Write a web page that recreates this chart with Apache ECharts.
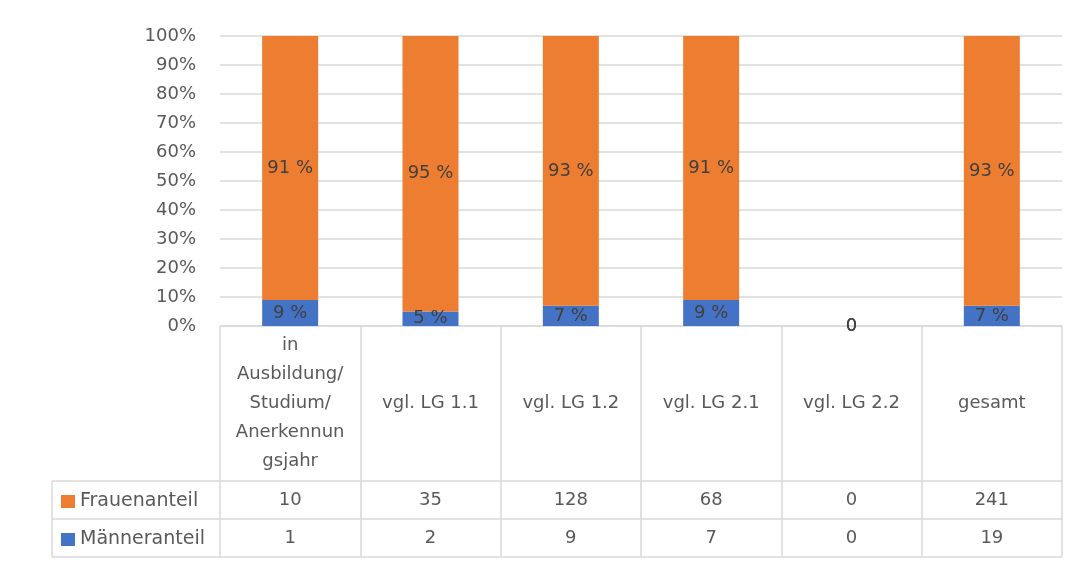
<!DOCTYPE html>
<html>
<head>
<meta charset="utf-8">
<script src="https://cdn.jsdelivr.net/npm/echarts@6/dist/echarts.min.js"></script>
<style>
  html, body { margin: 0; padding: 0; background: #ffffff; }
  #chart { width: 1080px; height: 568px; }
</style>
</head>
<body>
<div id="chart"></div>
<script>
// Categories (header row of the data table)
const categories = [
  'in\nAusbildung/\nStudium/\nAnerkennun\ngsjahr',
  'vgl. LG 1.1',
  'vgl. LG 1.2',
  'vgl. LG 2.1',
  'vgl. LG 2.2',
  'gesamt'
];
// Head counts shown in the table rows
const frauenCount = [10, 35, 128, 68, 0, 241];
const maennerCount = [1, 2, 9, 7, 0, 19];
// Shares in percent, drawn as the 100 % stacked bars
const frauenPct = [91, 95, 93, 91, 0, 93];
const maennerPct = [9, 5, 7, 9, 0, 7];
// Value axis tick labels
const yTicks = [0, 10, 20, 30, 40, 50, 60, 70, 80, 90, 100];

const FONT = 'DejaVu Sans';
const TEXT = '#595959';
const LINE = '#d9d9d9';

// Plot / table frame
const GRID = { left: 220, right: 18, top: 36, bottom: 242 };
const W = 1080, H = 568;
const axisY = H - GRID.bottom;           // 326
const headerH = 155;                      // header row height
const rowH = 38;                          // data row height
const tableLeft = 52;
const tableRight = W - GRID.right;

const chart = echarts.init(document.getElementById('chart'), null, { renderer: 'canvas' });

const barLabel = {
  show: true,
  position: 'inside',
  fontFamily: FONT,
  fontSize: 18,
  color: '#404040',
  formatter: p => (p.value === 0 ? '0' : p.value + ' %')
};

const rowAxis = (data, offset) => ({
  type: 'category',
  data: data.map(String),
  position: 'bottom',
  offset: offset,
  boundaryGap: true,
  axisLine: { show: false },
  axisTick: { show: false },
  splitLine: { show: false },
  axisLabel: {
    interval: 0,
    margin: 0,
    verticalAlign: 'middle',
    fontFamily: FONT,
    fontSize: 18,
    color: TEXT
  }
});

const rowLine = y => ({
  type: 'line',
  shape: { x1: tableLeft, y1: y, x2: tableRight, y2: y },
  style: { stroke: LINE, lineWidth: 1.5 },
  silent: true
});

chart.setOption({
  backgroundColor: '#ffffff',
  animation: false,
  grid: GRID,
  legend: {
    orient: 'vertical',
    left: 61,
    top: axisY + headerH + 11,
    padding: 0,
    itemWidth: 14,
    itemHeight: 13,
    itemGap: 19,
    selectedMode: false,
    textStyle: { fontFamily: FONT, fontSize: 19, color: TEXT },
    data: [
      { name: 'Frauenanteil', icon: 'rect' },
      { name: 'Männeranteil', icon: 'rect' }
    ]
  },
  xAxis: [
    {
      type: 'category',
      data: categories,
      boundaryGap: true,
      axisLine: { show: true, lineStyle: { color: LINE, width: 1.5 } },
      axisTick: {
        show: true,
        interval: 0,
        length: headerH + 2 * rowH,
        lineStyle: { color: LINE, width: 1.5 }
      },
      axisLabel: {
        interval: 0,
        margin: headerH / 2,
        verticalAlign: 'middle',
        lineHeight: 29,
        fontFamily: FONT,
        fontSize: 18,
        color: TEXT
      }
    },
    rowAxis(frauenCount, headerH + rowH / 2),
    rowAxis(maennerCount, headerH + rowH * 1.5)
  ],
  yAxis: {
    type: 'value',
    min: 0,
    max: 100,
    interval: 10,
    axisLine: { show: false },
    axisTick: { show: false },
    splitLine: { lineStyle: { color: LINE, width: 1.5 } },
    axisLabel: {
      margin: 24,
      fontFamily: FONT,
      fontSize: 18,
      color: TEXT,
      formatter: v => (yTicks.includes(v) ? v + '%' : '')
    }
  },
  series: [
    {
      name: 'Männeranteil',
      type: 'bar',
      stack: 'share',
      xAxisIndex: 0,
      barWidth: 56,
      itemStyle: { color: '#4472c4' },
      label: barLabel,
      data: maennerPct
    },
    {
      name: 'Frauenanteil',
      type: 'bar',
      stack: 'share',
      xAxisIndex: 0,
      barWidth: 56,
      itemStyle: { color: '#ed7d31' },
      label: barLabel,
      data: frauenPct
    }
  ],
  graphic: [
    rowLine(axisY + headerH),
    rowLine(axisY + headerH + rowH),
    rowLine(axisY + headerH + 2 * rowH),
    {
      type: 'line',
      shape: { x1: tableLeft, y1: axisY + headerH, x2: tableLeft, y2: axisY + headerH + 2 * rowH },
      style: { stroke: LINE, lineWidth: 1.5 },
      silent: true
    }
  ]
});
</script>
</body>
</html>
